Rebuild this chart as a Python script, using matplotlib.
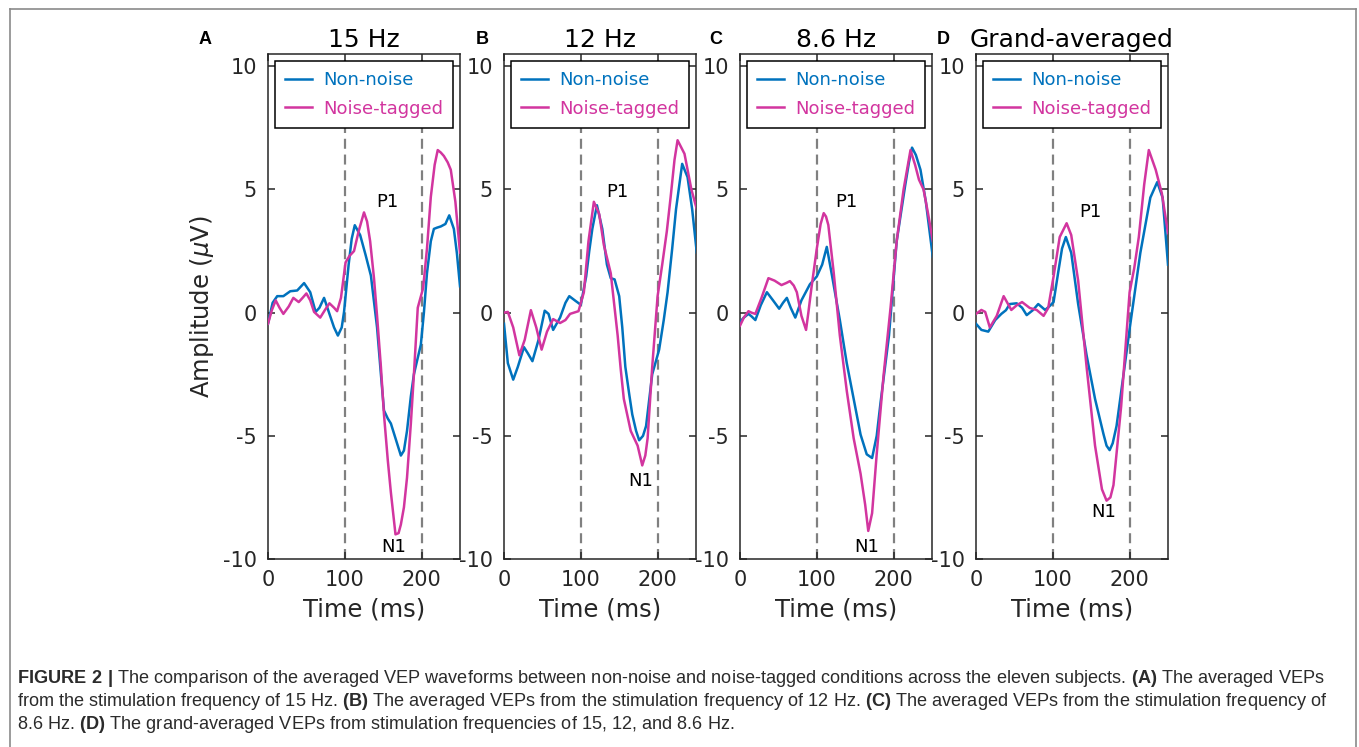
import numpy as np
import matplotlib
matplotlib.use('Agg')
import matplotlib.pyplot as plt
from matplotlib.lines import Line2D

plt.rcParams['font.family'] = 'DejaVu Sans'
plt.rcParams['axes.unicode_minus'] = False
plt.rcParams['mathtext.fontset'] = 'custom'
plt.rcParams['mathtext.it'] = 'DejaVu Sans:italic'
plt.rcParams['mathtext.rm'] = 'Liberation Sans'
plt.rcParams['mathtext.bf'] = 'Liberation Sans:bold'

# ---- data (time in ms, amplitude in uV) ----
# panel A, 15 Hz
t_a_non = [0, 6, 12, 20, 29, 38, 47, 55, 62, 67, 73, 80, 86, 91, 96, 99, 105, 109, 113, 120, 127, 134, 142, 147, 151, 156,
           160, 166, 173, 177, 181, 186, 190, 199, 203, 207, 212, 216, 220, 225, 231, 236, 242, 246, 250]
v_a_non = [-0.45, 0.4, 0.67, 0.67, 0.87, 0.9, 1.2, 0.83, 0.03, 0.2, 0.6, -0.05, -0.6, -0.93, -0.6, 0.03, 1.95, 3.0, 3.55, 3.15, 2.35, 1.5, -0.6, -2.5, -3.97, -4.3,
           -4.5, -5.1, -5.8, -5.6, -4.8, -3.4, -2.5, -1.3, 0.0, 1.6, 2.9, 3.4, 3.45, 3.5, 3.6, 3.95, 3.4, 2.4, 1.07]
t_a_tag = [0, 5, 10, 15, 20, 27, 33, 40, 45, 50, 55, 60, 68, 74, 80, 86, 90, 95, 101, 106, 112, 118, 125, 129, 133, 138, 142,
           147, 151, 156, 160, 166, 170, 173, 177, 181, 186, 190, 195, 202, 207, 212, 217, 221, 225, 229, 234, 238, 244, 250]
v_a_tag = [-0.45, 0.1, 0.5, 0.2, -0.05, 0.25, 0.6, 0.43, 0.6, 0.78, 0.5, 0.03, -0.2, 0.1, 0.38, 0.2, 0.06, 0.6, 2.04, 2.3, 2.5, 3.3, 4.07, 3.7, 2.9, 1.4, -0.13,
           -2.2, -4.13, -6.0, -7.3, -9.0, -8.95, -8.6, -7.9, -6.7, -4.5, -2.5, 0.2, 1.0, 2.6, 4.7, 6.0, 6.6, 6.5, 6.36, 6.1, 5.8, 4.5, 2.44]

# panel B, 12 Hz
t_b_non = [0, 5, 12, 18, 26, 31, 37, 45, 53, 58, 64, 73, 80, 85, 93, 100, 107, 111, 115, 121, 128, 134, 139, 144, 150, 154, 158,
           163, 167, 172, 176, 181, 185, 193, 202, 208, 213, 219, 224, 232, 239, 245, 251]
v_b_non = [-0.45, -2.05, -2.72, -2.2, -1.4, -1.65, -1.97, -1.1, 0.08, -0.05, -0.7, -0.2, 0.4, 0.67, 0.48, 0.32, 1.47, 2.5, 3.4, 4.36, 3.4, 1.95, 1.4, 1.35, 0.67, -0.6, -2.2,
           -3.3, -4.13, -4.8, -5.18, -5.0, -4.6, -2.5, -1.5, -0.3, 0.83, 2.6, 4.2, 6.04, 5.5, 4.2, 2.44]
t_b_tag = [0, 5, 12, 20, 27, 35, 42, 49, 56, 64, 73, 80, 86, 97, 104, 110, 117, 124, 130, 139, 148, 152, 156, 165, 174, 180,
           184, 187, 193, 200, 206, 212, 217, 222, 226, 235, 244, 251]
v_b_tag = [0.0, 0.03, -0.6, -1.73, -1.1, 0.1, -0.6, -1.5, -0.77, -0.26, -0.42, -0.3, -0.05, 0.06, 0.83, 2.9, 4.5, 4.0, 2.75, 1.6, -0.93, -2.3, -3.5, -4.8, -5.4, -6.2,
           -5.8, -5.1, -2.2, 0.67, 1.95, 3.3, 4.7, 6.2, 7.0, 6.45, 5.0, 4.2]

# panel C, 8.6 Hz
t_c_non = [0, 5, 11, 15, 20, 27, 35, 43, 51, 56, 61, 66, 72, 80, 91, 100, 107, 113, 120, 130, 139, 148, 157, 165, 172, 178,
           183, 194, 204, 215, 220, 224, 229, 235, 242, 251]
v_c_non = [-0.37, -0.2, -0.05, -0.15, -0.3, 0.3, 0.83, 0.5, 0.16, 0.4, 0.6, 0.2, -0.2, 0.5, 1.15, 1.47, 1.95, 2.67, 1.47, -0.3, -2.05, -3.5, -4.95, -5.75, -5.9, -5.0,
           -3.65, -0.93, 2.9, 5.15, 6.1, 6.7, 6.4, 5.8, 4.5, 2.27]
t_c_tag = [0, 5, 11, 15, 20, 28, 37, 45, 54, 60, 65, 70, 74, 80, 86, 89, 93, 100, 105, 109, 112, 115, 122, 130, 139, 148, 157,
           163, 167, 172, 178, 187, 196, 204, 213, 222, 228, 233, 239, 245, 251]
v_c_tag = [-0.53, -0.2, 0.06, 0.0, -0.05, 0.6, 1.4, 1.3, 1.12, 1.2, 1.28, 1.1, 0.83, -0.13, -0.7, 0.0, 1.0, 2.6, 3.6, 4.04, 3.9, 3.56, 1.63, -0.93, -3.17, -5.1, -6.54,
           -7.8, -8.86, -8.14, -5.74, -2.53, 0.19, 2.9, 5.0, 6.6, 6.0, 5.4, 5.0, 4.0, 2.9]

# panel D, grand-averaged
t_d_non = [0, 7, 16, 25, 33, 39, 44, 53, 60, 66, 74, 81, 90, 96, 101, 107, 112, 117, 124, 133, 144, 155, 166, 170, 174,
           178, 183, 192, 201, 214, 227, 236, 243, 250]
v_d_non = [-0.45, -0.7, -0.77, -0.3, -0.05, 0.1, 0.35, 0.38, 0.2, -0.1, 0.1, 0.35, 0.11, 0.27, 0.43, 1.63, 2.6, 3.07, 2.43, 0.35, -1.73, -3.5, -4.93, -5.4, -5.58,
           -5.3, -4.6, -2.53, -0.45, 2.43, 4.67, 5.3, 4.67, 1.95]
t_d_tag = [0, 7, 12, 18, 27, 36, 46, 53, 60, 70, 79, 88, 94, 101, 109, 118, 124, 133, 144, 155, 164, 170, 175, 179, 189,
           200, 206, 212, 219, 225, 234, 242, 250]
v_d_tag = [-0.05, 0.11, 0.03, -0.6, -0.13, 0.67, 0.11, 0.3, 0.43, 0.19, 0.11, -0.13, 0.19, 1.47, 3.07, 3.63, 3.15, 1.3, -2.2, -5.4, -7.17, -7.63, -7.5, -7.0, -3.8,
           0.83, 1.8, 3.07, 5.2, 6.6, 5.8, 4.84, 3.23]

titles = ['15 Hz', '12 Hz', '8.6 Hz', 'Grand-averaged']
letters = ['A', 'B', 'C', 'D']
p1_pos = [(155, 4.5), (148, 4.9), (139, 4.5), (149, 4.1)]
n1_pos = [(164, -9.5), (178, -6.85), (165, -9.5), (166, -8.1)]
onsets = [100, 200]

blue = '#0072BD'
pink = '#D2359F'

W, H = 1359, 747
fig = plt.figure(figsize=(W / 100, H / 100), dpi=100)

# outer frame (bottom edge runs off the page)
frame_kw = dict(color='#8a8a8a', lw=1.2)
fig.add_artist(Line2D([10 / W, 10 / W], [0, 1 - 9 / H], **frame_kw))
fig.add_artist(Line2D([10 / W, 1356 / W], [1 - 9 / H, 1 - 9 / H], **frame_kw))
fig.add_artist(Line2D([1356 / W, 1356 / W], [1 - 9 / H, 0], **frame_kw))

lefts = [268, 504, 740, 976]
letter_x = [205, 482, 716, 943]
data = [(t_a_non, v_a_non, t_a_tag, v_a_tag), (t_b_non, v_b_non, t_b_tag, v_b_tag),
        (t_c_non, v_c_non, t_c_tag, v_c_tag), (t_d_non, v_d_non, t_d_tag, v_d_tag)]

for i in range(4):
    ax = fig.add_axes([lefts[i] / W, 1 - 559 / H, 192 / W, 505 / H])
    tn, vn, tt, vt = data[i]
    for x in onsets:
        ax.axvline(x, color='#808080', lw=1.6, dashes=(4.5, 2.6), zorder=1)
    ax.plot(tn, vn, color=blue, lw=1.8, label='Non-noise', solid_joinstyle='round', zorder=3)
    ax.plot(tt, vt, color=pink, lw=1.8, label='Noise-tagged', solid_joinstyle='round', zorder=3)
    ax.text(*p1_pos[i], 'P1', fontsize=13, ha='center', va='center')
    ax.text(*n1_pos[i], 'N1', fontsize=13, ha='center', va='center')
    ax.set_xlim(0, 250)
    ax.set_ylim(-10, 10.5)
    ax.set_xticks([0, 100, 200])
    ax.set_yticks([-10, -5, 0, 5, 10])
    ax.tick_params(direction='in', top=True, right=True, length=5, width=1.1,
                   labelsize=15, pad=8, color='#262626', labelcolor='#262626')
    for s in ax.spines.values():
        s.set_linewidth(1.1)
        s.set_color('#262626')
    ax.set_title(titles[i], fontsize=18, pad=5)
    ax.set_xlabel('Time (ms)', fontsize=17.5, labelpad=5, color='#262626')
    if i == 0:
        ax.set_ylabel(r'Amplitude ($\mu$V)', fontsize=17.5, labelpad=5, color='#262626')
    leg = ax.legend(loc='upper left', bbox_to_anchor=(7 / 192, 1 - 7 / 505), borderaxespad=0,
                    fontsize=13, fancybox=False, framealpha=1, edgecolor='black',
                    handlelength=1.5, handletextpad=0.6, borderpad=0.55, labelspacing=0.6,
                    labelcolor='linecolor')
    leg.get_frame().set_linewidth(1.1)
    fig.text(letter_x[i] / W, 1 - 40 / H, letters[i], fontsize=13, fontweight='bold',
             ha='center', va='center', family='Liberation Sans')

cap_lines = [
    r'$\mathbf{FIGURE\ 2\ |}$ The comparison of the averaged VEP waveforms between non-noise and noise-tagged conditions across the eleven subjects. $\mathbf{(A)}$ The averaged VEPs',
    r'from the stimulation frequency of 15 Hz. $\mathbf{(B)}$ The averaged VEPs from the stimulation frequency of 12 Hz. $\mathbf{(C)}$ The averaged VEPs from the stimulation frequency of',
    r'8.6 Hz. $\mathbf{(D)}$ The grand-averaged VEPs from stimulation frequencies of 15, 12, and 8.6 Hz.',
]
cap_y = [683, 706, 729]
caps = [fig.text(17 / W, 1 - y / H, s, fontsize=10, family='Liberation Sans', color='#2b2b2b',
                 ha='left', va='baseline') for s, y in zip(cap_lines, cap_y)]
fig.canvas.draw()
w = caps[0].get_window_extent(fig.canvas.get_renderer()).width
for c in caps:
    c.set_fontsize(10 * 1310 / w)

fig.savefig('out.png', dpi=100)
